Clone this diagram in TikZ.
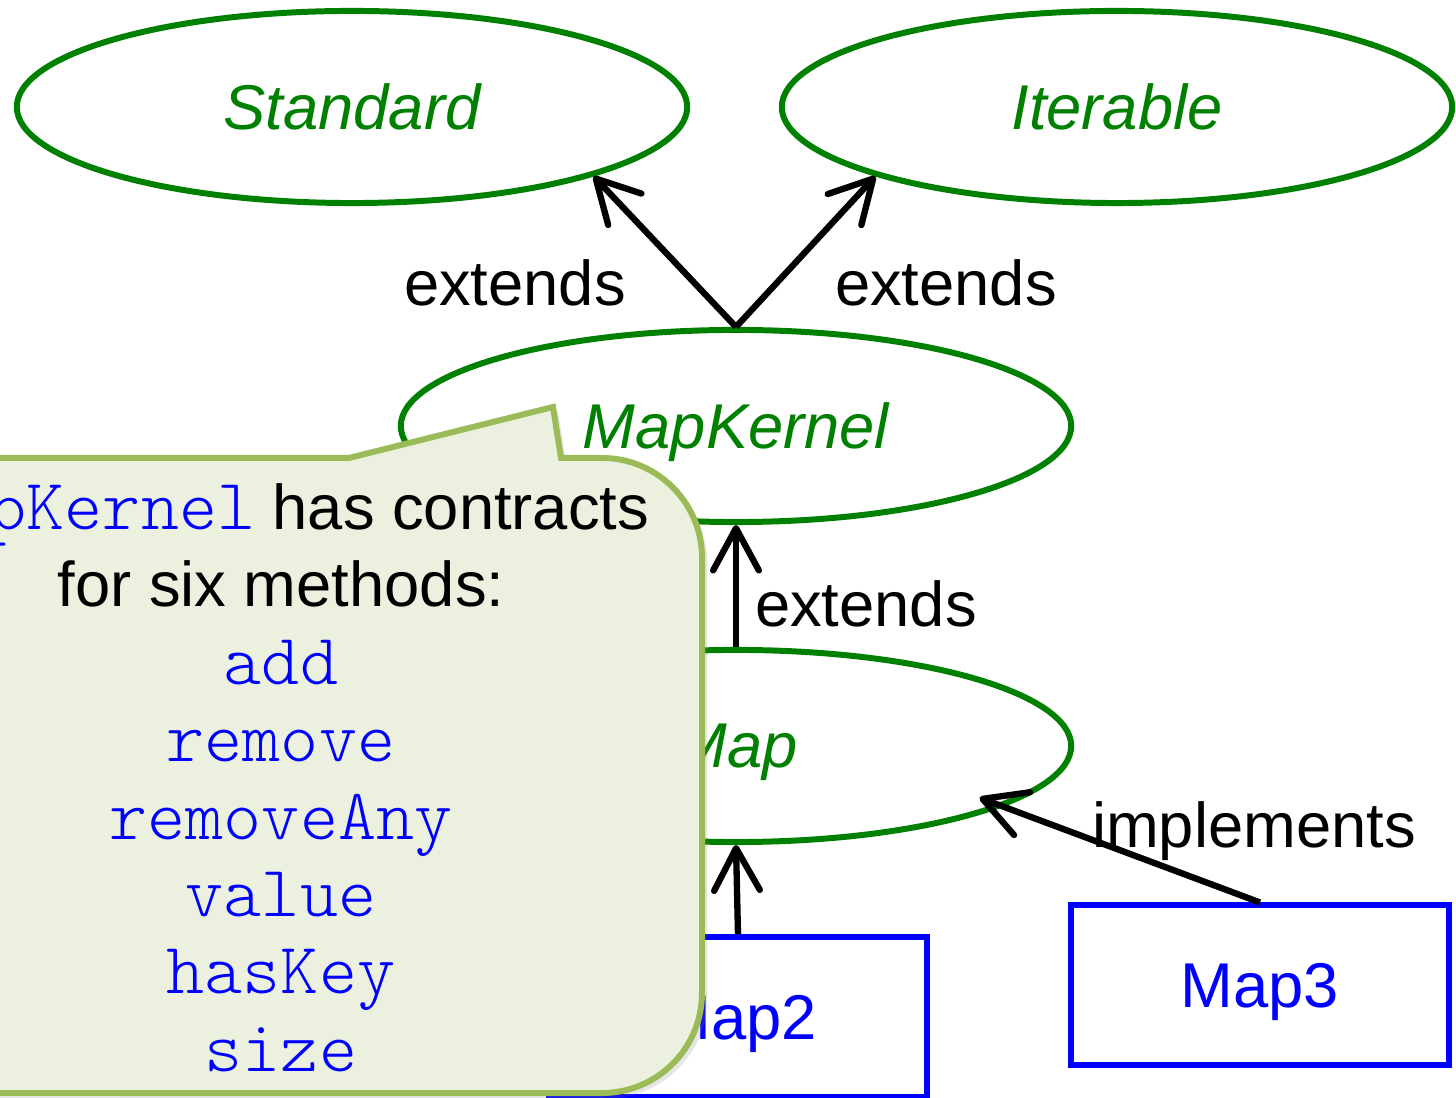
\documentclass[tikz,border=0pt]{standalone}
\usepackage{fontspec}
\setmainfont{Liberation Sans}
\setmonofont{Latin Modern Mono Light}
\usetikzlibrary{arrows.meta, shapes.geometric, shadows, calc}

\definecolor{ifgreen}{RGB}{0,128,0}
\definecolor{codeblue}{RGB}{0,0,255}
\definecolor{noteline}{RGB}{155,187,89}
\definecolor{notefill}{RGB}{235,241,222}

\newcommand{\code}[1]{{\fontsize{20.6}{22}\ttfamily\color{codeblue}#1}}

\begin{document}
\begin{tikzpicture}[
  x=0.01cm, y=-0.01cm,
  every node/.style = {font=\fontsize{18}{22}\selectfont},
  iface/.style = {ellipse, draw=ifgreen, line width=1.7pt, text=ifgreen,
                  font=\fontsize{18}{22}\selectfont\itshape, text depth=0pt,
                  minimum width=6.7cm, minimum height=1.92cm, inner sep=0pt},
  impl/.style  = {rectangle, draw=codeblue, line width=1.7pt, text=codeblue,
                  text depth=0pt, minimum width=3.77cm, minimum height=1.59cm},
  arr/.style   = {-{Straight Barb[length=12pt, width=13pt, round]},
                  line width=1.8pt, black},
]
\clip (0,0) rectangle (1456,1098);

%% ══ Interfaces ══════════════════════════════════════════════════════════
\node[iface] (standard)  at (352,107)  {Standard};
\node[iface] (iterable)  at (1117,107) {Iterable};
\node[iface] (mapkernel) at (736,426)  {MapKernel};
\node[iface] (map)       at (736,746)  {Map};

%% ══ Implementations ═════════════════════════════════════════════════════
\node[impl] (map2) at (738,1017) {Map2};
\node[impl] (map3) at (1260,985) {Map3};

%% ── extends / implements ──────────────────────────────────────────────────
\draw[arr] (mapkernel.north) -- (standard.-16);
\draw[arr] (mapkernel.north) -- (iterable.196);
\draw[arr] (map.north) -- (mapkernel.south);
\draw[arr] (map2.north) -- (map.south);
\draw[arr] (map3.north) -- ($(map.center)!0.89!(map.-12)$);

\node (extL) at (515,283)  {extends};
\node (extR) at (946,283)  {extends};
\node (extM) at (866,604)  {extends};
\node (impl) at (1254,831) {implements};

%% ══ Callout ══════════════════════════════════════════════════════════════
\draw[noteline, fill=notefill, line width=1.7pt,
      drop shadow={shadow xshift=1.5pt, shadow yshift=-1.5pt, opacity=0.2}]
  (-200,458) -- (349,458) -- (553,407) -- (561,458) -- (602,458)
  arc[start angle=90, end angle=0, radius=1cm] -- (702,993)
  arc[start angle=0, end angle=-90, radius=1cm] -- (-200,1093) -- cycle;

\node[anchor=north, align=center, inner sep=0pt] (note) at (281,483) {
  \code{MapKernel} has contracts\\
  for six methods:\\
  \code{add}\\
  \code{remove}\\
  \code{removeAny}\\
  \code{value}\\
  \code{hasKey}\\
  \code{size}
};

\end{tikzpicture}
\end{document}
